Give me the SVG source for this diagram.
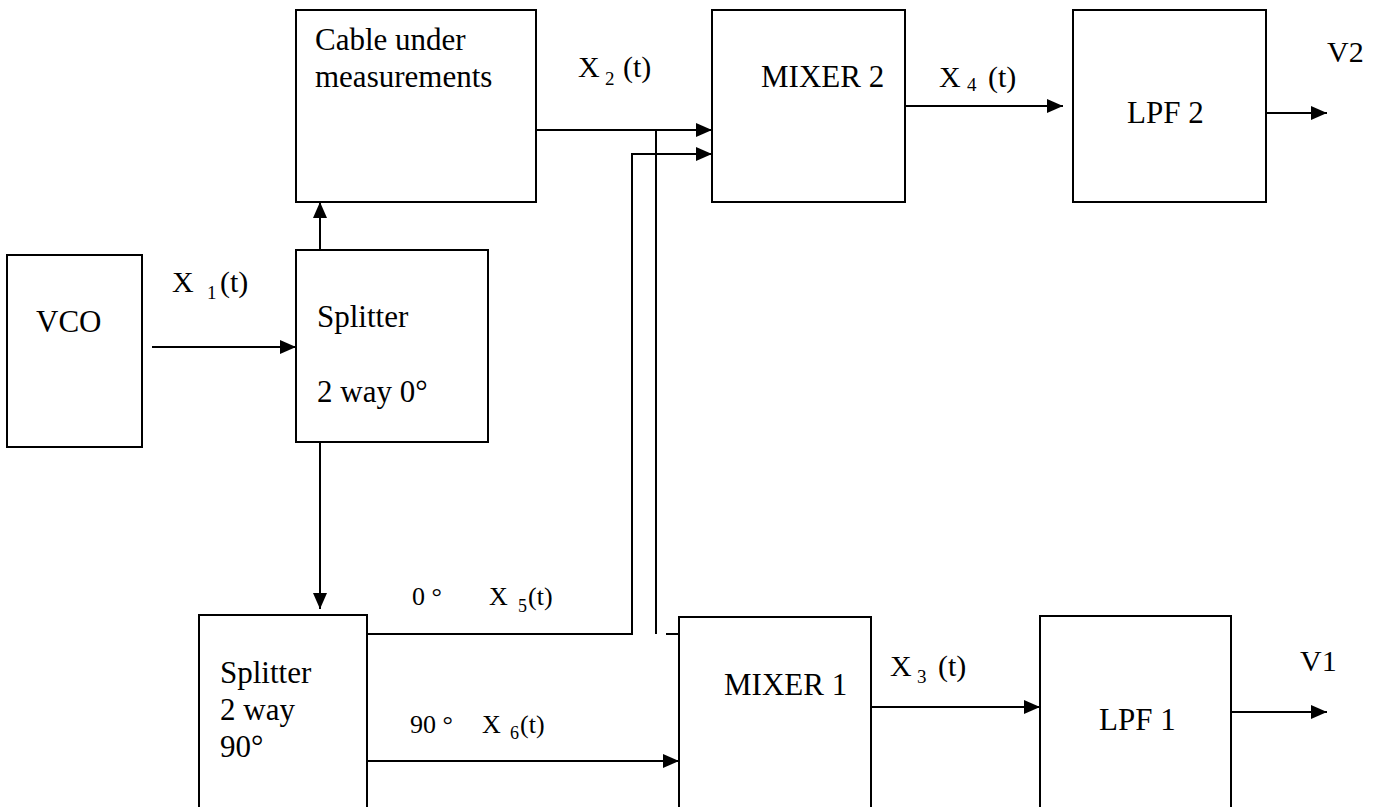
<svg xmlns="http://www.w3.org/2000/svg" width="1376" height="807" viewBox="0 0 1376 807">
<defs>
<marker id="ah" viewBox="0 0 16 14" refX="16" refY="7" markerWidth="16" markerHeight="14" markerUnits="userSpaceOnUse" orient="auto">
<path d="M0,0 L16,7 L0,14 Z" fill="#000"/>
</marker>
<style>
.box{fill:#fff;stroke:#000;stroke-width:2}
.ln{fill:none;stroke:#000;stroke-width:2}
.ar{fill:none;stroke:#000;stroke-width:2;marker-end:url(#ah)}
text{font-family:'Liberation Serif','Tinos','Times New Roman','DejaVu Serif',serif;fill:#000}
.t{font-size:31px}
.l{font-size:30px}
.s{font-size:26px}
.sub{font-size:19px}
.ss{font-size:18px}
</style>
</defs>
<rect width="1376" height="807" fill="#fff"/>
<g id="connectors">
<path class="ar" d="M152,347 H296"/>
<path class="ar" d="M320,250 V202"/>
<path class="ar" d="M320,442 V609"/>
<path class="ar" d="M536,130 H712"/>
<path class="ar" d="M367,634 H632 V154 H712"/>
<path class="ln" d="M656,130 V634"/>
<path class="ln" d="M666,634 H679"/>
<path class="ar" d="M367,761 H679"/>
<path class="ar" d="M871,707 H1040"/>
<path class="ar" d="M1231,712 H1327"/>
<path class="ar" d="M895,106 H1063"/>
<path class="ar" d="M1207,113 H1327"/>
</g>
<g id="labels">
<text class="l" x="172" y="292">X</text><text class="sub" x="207" y="299">1</text><text class="l" x="220" y="292">(t)</text>
<text class="l" x="578" y="77">X</text><text class="sub" x="605" y="85">2</text><text class="l" x="623" y="77">(t)</text>
<text class="l" x="939" y="87">X</text><text class="sub" x="967" y="91">4</text><text class="l" x="988" y="87">(t)</text>
<text class="l" x="890" y="676">X</text><text class="sub" x="917" y="683">3</text><text class="l" x="938" y="676">(t)</text>
<text class="s" x="412" y="605">0 °</text>
<text class="s" x="489" y="605">X</text><text class="ss" x="518" y="612">5</text><text class="s" x="528" y="605">(t)</text>
<text class="s" x="410" y="733">90 °</text>
<text class="s" x="482" y="733">X</text><text class="ss" x="510" y="739">6</text><text class="s" x="520" y="733">(t)</text>
<text class="l" x="1327" y="62">V2</text>
<text class="l" x="1300" y="671">V1</text>
</g>
<g id="cable">
<rect class="box" x="296" y="10" width="240" height="192"/>
<text class="t" x="315" y="50">Cable under</text>
<text class="t" x="315" y="87">measurements</text>
</g>
<g id="mixer2">
<rect class="box" x="712" y="10" width="193" height="192"/>
<text class="t" x="761" y="87">MIXER 2</text>
</g>
<g id="lpf2">
<rect class="box" x="1073" y="10" width="193" height="192"/>
<text class="t" x="1127" y="123">LPF 2</text>
</g>
<g id="vco">
<rect class="box" x="7" y="255" width="135" height="192"/>
<text class="t" x="36" y="332">VCO</text>
</g>
<g id="splitter1">
<rect class="box" x="296" y="250" width="192" height="192"/>
<text class="t" x="317" y="327">Splitter</text>
<text class="t" x="317" y="402">2 way 0°</text>
</g>
<g id="splitter2">
<rect class="box" x="199" y="615" width="168" height="200"/>
<text class="t" x="220" y="683">Splitter</text>
<text class="t" x="220" y="720">2 way</text>
<text class="t" x="220" y="757">90°</text>
</g>
<g id="mixer1">
<rect class="box" x="679" y="617" width="192" height="200"/>
<text class="t" x="724" y="695">MIXER 1</text>
</g>
<g id="lpf1">
<rect class="box" x="1040" y="616" width="191" height="200"/>
<text class="t" x="1099" y="730">LPF 1</text>
</g>
</svg>
